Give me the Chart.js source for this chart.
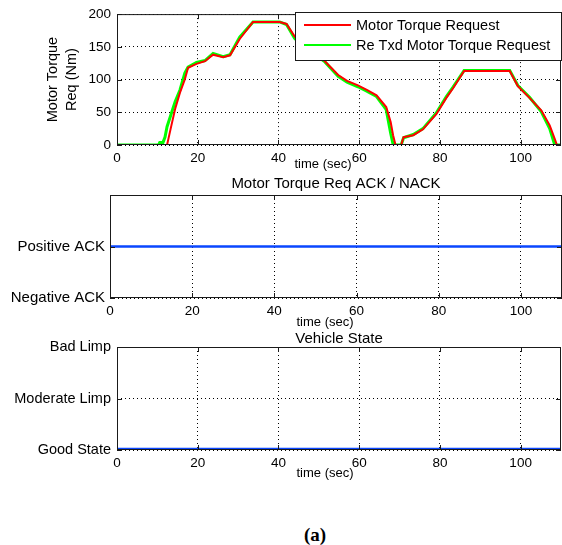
<!DOCTYPE html>
<html>
<head>
<meta charset="utf-8">
<script src="https://cdn.jsdelivr.net/npm/chart.js@4.4.1/dist/chart.umd.min.js"></script>
<style>
  html, body { margin: 0; padding: 0; background: #fff; }
  #page { position: relative; width: 562px; height: 545px; overflow: hidden; }
  .panel { position: absolute; left: 0; width: 562px; }
  .panel canvas { display: block; }
  #caption {
    position: absolute; left: 265px; width: 100px; top: 524px;
    text-align: center; font: bold 19px "Liberation Serif", "Times New Roman", serif;
  }
</style>
</head>
<body>
<div id="page">
  <div class="panel" style="top:0;height:175px"><canvas id="torqueChart" width="562" height="175"></canvas></div>
  <div class="panel" style="top:170px;height:165px"><canvas id="ackChart" width="562" height="165"></canvas></div>
  <div class="panel" style="top:325px;height:160px"><canvas id="stateChart" width="562" height="160"></canvas></div>
  <div id="caption">(a)</div>
</div>
<script>
// values
const timeSec = [0, 10.3, 10.6, 11.4, 11.9, 12.4, 13.3, 14.4, 15.6, 16.8, 17.6, 19.7, 21.8, 23.8, 26.3, 28.0, 30.4, 33.7, 40.3, 42.0, 44.0, 46.0, 48.0, 50.0, 51.5, 54.8, 57.0, 59.7, 62.0, 64.3, 66.7, 67.8, 68.4, 69.0, 70.4, 71.0, 73.4, 75.8, 79.1, 81.6, 83.3, 86.0, 97.3, 99.3, 102.2, 105.1, 107.2, 108.4, 109.0, 110];
const torqueRequest = [0, 0, 0, 0, 0, 0, 25, 55, 80, 100, 118, 124, 128, 138, 134, 137, 162, 188, 188, 185, 166, 153, 144, 136, 128, 107, 98, 91, 84, 76, 58, 35, 15, 0, 0, 12, 15, 24, 47, 72, 87, 113, 113, 90, 72, 53, 30, 10, 0, 0];
const reTxdTorqueRequest = [0, 0, 4, 4, 12, 28, 45, 66, 84, 110, 119, 126, 129, 140, 135, 138, 165, 188, 188, 184, 163, 151, 142, 134, 127, 105, 96, 89, 82, 74, 54, 18, 1, 0, 0, 11, 16, 25, 49, 74, 89, 114, 114, 91, 73, 51, 25, 1, 0, 0];

const ackTime = [0, 110];
const ackValue = [1, 1];
const ackLabels = ['Negative ACK', 'Positive ACK', ''];

const stateTime = [0, 110];
const stateValue = [0, 0];
const stateLabels = ['Good State', 'Moderate Limp', 'Bad Limp'];

const SANS = '"Liberation Sans", Arial, sans-serif';
const BLUE = '#0a46ff';

function points(xs, ys) {
  return xs.map((x, i) => ({x: x, y: ys[i]}));
}

// matlab style box, inward ticks and the "time (sec)" label
const matlabBox = {
  id: 'matlabBox',
  afterDatasetsDraw(chart, args, opts) {
    const {ctx, chartArea: a, scales} = chart;
    ctx.save();
    ctx.strokeStyle = '#1a1a1a';
    ctx.lineWidth = 1;
    ctx.beginPath();
    scales.x.ticks.forEach(t => {
      const px = Math.round(scales.x.getPixelForValue(t.value)) + 0.5;
      ctx.moveTo(px, a.bottom); ctx.lineTo(px, a.bottom - 5);
      ctx.moveTo(px, a.top); ctx.lineTo(px, a.top + 5);
    });
    scales.y.ticks.forEach(t => {
      const py = Math.round(scales.y.getPixelForValue(t.value)) + 0.5;
      ctx.moveTo(a.left, py); ctx.lineTo(a.left + 5, py);
      ctx.moveTo(a.right, py); ctx.lineTo(a.right - 5, py);
    });
    ctx.stroke();
    ctx.strokeRect(a.left + 0.5, a.top + 0.5, a.right - a.left - 1, a.bottom - a.top - 1);

    ctx.fillStyle = '#000';
    ctx.font = '13px ' + SANS;
    ctx.textAlign = 'center';
    ctx.textBaseline = 'middle';
    ctx.fillText(opts.xLabel, opts.xLabelX, opts.xLabelY);
    ctx.restore();
  }
};

// legend box drawn inside the axes, top right
const boxLegend = {
  id: 'boxLegend',
  afterDraw(chart, args, opts) {
    if (!opts.show) return;
    const {ctx} = chart;
    ctx.save();
    ctx.fillStyle = '#fff';
    ctx.fillRect(opts.left, opts.top, opts.width, opts.height);
    ctx.strokeStyle = '#1a1a1a';
    ctx.lineWidth = 1;
    ctx.strokeRect(opts.left + 0.5, opts.top + 0.5, opts.width - 1, opts.height - 1);
    chart.data.datasets.forEach((ds, i) => {
      const y = opts.top + 13 + i * 20;
      ctx.strokeStyle = ds.borderColor;
      ctx.lineWidth = 2;
      ctx.beginPath();
      ctx.moveTo(opts.left + 9, y);
      ctx.lineTo(opts.left + 56, y);
      ctx.stroke();
      ctx.fillStyle = '#000';
      ctx.font = '14.5px ' + SANS;
      ctx.textBaseline = 'middle';
      ctx.fillText(ds.label, opts.left + 61, y + 1);
    });
    ctx.restore();
  }
};

// dotted matlab grid
const dottedGrid = {color: '#000', drawTicks: false};
const dottedBorder = {display: false, dash: [1, 3]};

function xAxis(height) {
  return {
    type: 'linear', min: 0, max: 110,
    ticks: {stepSize: 20, includeBounds: false, color: '#000', padding: 5, maxRotation: 0,
      font: {family: SANS, size: 13.5}},
    grid: dottedGrid,
    border: dottedBorder,
    afterFit: s => { s.height = height; }
  };
}

function baseOptions(opts) {
  return {
    responsive: false,
    animation: false,
    devicePixelRatio: 1,
    layout: {padding: opts.padding},
    plugins: {
      legend: {display: false},
      tooltip: {enabled: false},
      title: opts.title,
      matlabBox: opts.box,
      boxLegend: opts.legend || {show: false}
    },
    scales: {x: xAxis(opts.xHeight), y: opts.y}
  };
}

// top: motor torque request
new Chart(document.getElementById('torqueChart'), {
  type: 'line',
  data: {
    datasets: [
      {label: 'Motor Torque Request', data: points(timeSec, torqueRequest),
        borderColor: '#ff0000', borderWidth: 2, pointRadius: 0, tension: 0},
      {label: 'Re Txd Motor Torque Request', data: points(timeSec, reTxdTorqueRequest),
        borderColor: '#00ff00', borderWidth: 3, pointRadius: 0, tension: 0}
    ]
  },
  options: baseOptions({
    padding: {top: 13, right: 1, left: 0, bottom: 0},
    xHeight: 30,
    title: {display: false},
    box: {xLabel: 'time (sec)', xLabelX: 323, xLabelY: 164},
    legend: {show: true, left: 295, top: 12, width: 267, height: 49},
    y: {
      min: 0, max: 200,
      ticks: {stepSize: 50, color: '#000', padding: 6, font: {family: SANS, size: 13.5}},
      grid: dottedGrid,
      border: dottedBorder,
      title: {display: true, text: ['Motor Torque', 'Req (Nm)'], color: '#000',
        font: {family: SANS, size: 14.5, lineHeight: 1.3}, padding: {top: 43.5, bottom: 0}},
      afterFit: s => { s.width = 117; }
    }
  }),
  plugins: [matlabBox, boxLegend]
});

// middle: ack / nack
new Chart(document.getElementById('ackChart'), {
  type: 'line',
  data: {
    datasets: [
      {label: 'ACK', data: points(ackTime, ackValue),
        borderColor: BLUE, borderWidth: 2.5, pointRadius: 0}
    ]
  },
  options: baseOptions({
    padding: {top: 0, right: 0, left: 0, bottom: 0},
    xHeight: 37,
    title: {display: true, text: 'Motor Torque Req ACK / NACK', fullSize: false, color: '#000',
      font: {family: SANS, size: 15, weight: 'normal', lineHeight: 1}, padding: {top: 6.5, bottom: 3.5}},
    box: {xLabel: 'time (sec)', xLabelX: 325, xLabelY: 152},
    y: {
      min: 0, max: 2,
      ticks: {stepSize: 1, color: '#000', padding: 5, font: {family: SANS, size: 15},
        callback: v => ackLabels[v]},
      grid: dottedGrid,
      border: dottedBorder,
      afterFit: s => { s.width = 110; }
    }
  }),
  plugins: [matlabBox]
});

// bottom: vehicle state
new Chart(document.getElementById('stateChart'), {
  type: 'line',
  data: {
    datasets: [
      {label: 'State', data: points(stateTime, stateValue),
        borderColor: BLUE, borderWidth: 4.5, pointRadius: 0}
    ]
  },
  options: baseOptions({
    padding: {top: 0, right: 1, left: 0, bottom: 0},
    xHeight: 35,
    title: {display: true, text: 'Vehicle State', fullSize: false, color: '#000',
      font: {family: SANS, size: 15, weight: 'normal', lineHeight: 1}, padding: {top: 6.5, bottom: 0.5}},
    box: {xLabel: 'time (sec)', xLabelX: 325, xLabelY: 148},
    y: {
      min: 0, max: 2,
      ticks: {stepSize: 1, color: '#000', padding: 6, font: {family: SANS, size: 14.5},
        callback: v => stateLabels[v]},
      grid: dottedGrid,
      border: dottedBorder,
      afterFit: s => { s.width = 117; }
    }
  }),
  plugins: [matlabBox]
});
</script>
</body>
</html>
